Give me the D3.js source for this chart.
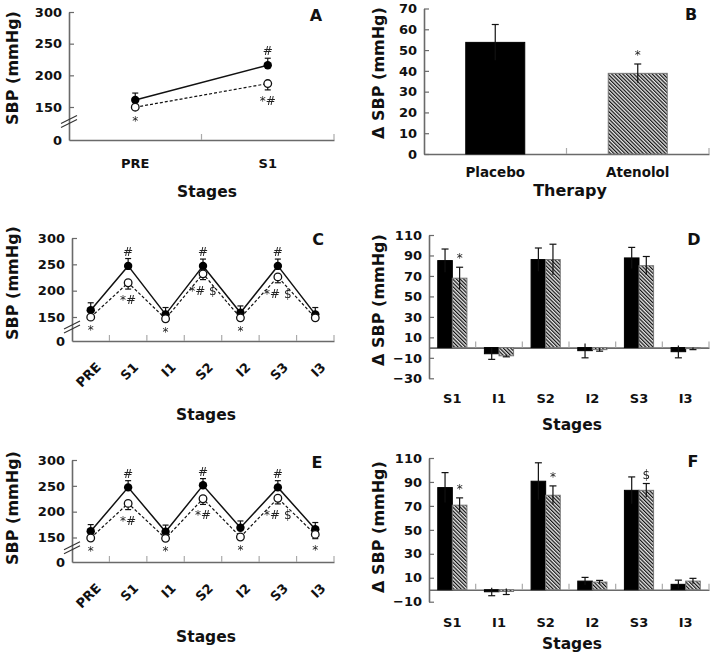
<!DOCTYPE html>
<html><head><meta charset="utf-8">
<script src="https://cdn.jsdelivr.net/npm/d3@7"></script>
<style>
body{margin:0;background:#fff}
svg{display:block}
text{font-family:"DejaVu Sans",sans-serif}
</style>
</head><body>
<svg id="chart" width="710" height="657"></svg>
<script>
// ---------------- DATA ----------------
// Panel A
const stagesA = ["PRE", "S1"];
const placeboA = [161, 216];
const placeboA_se = [11, 11];
const atenololA = [149, 187];
const atenololA_se = [11, 10];
const notesPlaceboA = ["", "#"];
const notesAtenololA = ["*", "*#"];

// Panel B
const therapyB = ["Placebo", "Atenolol"];
const deltaB = [53.7, 38.8];
const deltaB_se = [8.6, 4.5];
const notesB = ["", "*"];

// Panels C and E
const stagesCE = ["PRE", "S1", "I1", "S2", "I2", "S3", "I3"];
const placeboC = [163, 247, 155, 247, 158, 247, 155];
const placeboC_se = [14, 14, 13, 13, 13, 13, 13];
const atenololC = [149, 215, 139, 232, 145, 226, 145];
const atenololC_se = [13, 12, 12, 11, 13, 11, 13];
const notesPlaceboC = ["", "#", "", "#", "", "#", ""];
const notesAtenololC = ["*", "*#", "*", "*# $", "*", "*# $", ""];

const placeboE = [162, 247, 161, 251, 169, 247, 166];
const placeboE_se = [13, 13, 13, 13, 13, 13, 13];
const atenololE = [147, 216, 145, 225, 151, 226, 156];
const atenololE_se = [13, 12, 12, 11, 13, 11, 13];
const notesPlaceboE = ["", "#", "", "#", "", "#", ""];
const notesAtenololE = ["*", "*#", "*", "*#", "*", "*# $", "*"];

// Panels D and F
const stagesDF = ["S1", "I1", "S2", "I2", "S3", "I3"];
const placeboD = [85, -6, 86, -3, 87.6, -4];
const placeboD_se = [11.3, 5.5, 11.3, 7, 10.3, 6];
const atenololD = [67.8, -8, 86, -2, 80, -1];
const atenololD_se = [10.7, 1, 15, 1.5, 9, 1];
const notesD = ["*", "", "", "", "", ""];

const placeboF = [85.3, -1.7, 90.6, 7.2, 83, 4.5];
const placeboF_se = [12.5, 3.3, 15.4, 3.1, 11.2, 3.5];
const atenololF = [70.6, -1.5, 78.9, 6.4, 83, 7.2];
const atenololF_se = [6.1, 2.5, 7.8, 1.4, 5.7, 2.3];
const notesF = ["*", "", "*", "", "$", ""];

// ---------------- DRAWING ----------------
const svg = d3.select("#chart");
const AX = "#6a6a6a";
const FONT = "'DejaVu Sans', sans-serif";
const TICK_FS = 13, TICK_FW = 700;

const defs = svg.append("defs");
const pat = defs.append("pattern").attr("id", "hatch")
  .attr("patternUnits", "userSpaceOnUse").attr("width", 2.6).attr("height", 2.6)
  .attr("patternTransform", "rotate(-45)");
pat.append("rect").attr("width", 2.6).attr("height", 2.6).attr("fill", "#e6e6e6");
pat.append("line").attr("x1", 0.6).attr("y1", 0).attr("x2", 0.6).attr("y2", 2.6)
  .attr("stroke", "#111").attr("stroke-width", 1.2);
const gray = defs.append("filter").attr("id", "gray")
  .attr("x", "-20%").attr("y", "-20%").attr("width", "140%").attr("height", "140%");
gray.append("feColorMatrix").attr("type", "saturate").attr("values", 0);

function styleAxis(g) {
  g.select(".domain").attr("stroke", AX).attr("stroke-width", 1.6);
  g.selectAll(".tick line").attr("stroke", AX).attr("stroke-width", 1.2);
  g.selectAll(".tick text").attr("font-size", TICK_FS).attr("font-weight", TICK_FW)
    .attr("fill", "#111").attr("font-family", FONT);
}

function yTitle(x, y, txt) {
  svg.append("text").attr("transform", `translate(${x},${y}) rotate(-90)`)
    .attr("text-anchor", "middle").attr("font-size", 16).attr("font-weight", 700)
    .attr("fill", "#111").text(txt);
}
function xTitle(x, y, txt, fs) {
  svg.append("text").attr("x", x).attr("y", y).attr("text-anchor", "middle")
    .attr("font-size", fs || 15.5).attr("font-weight", 700).attr("fill", "#111").text(txt);
}
function letter(x, y, txt) {
  svg.append("text").attr("x", x).attr("y", y).attr("text-anchor", "middle")
    .attr("font-size", 16).attr("font-weight", 700).attr("fill", "#111").text(txt);
}
function note(g, x, y, txt) {
  g.append("text").attr("x", x).attr("y", y).attr("filter", "url(#gray)")
    .attr("text-anchor", "middle").attr("font-size", 12).attr("fill", "#222").text(txt);
}

function linePanel(o) {
  const x = d3.scaleBand().domain(o.cats).range([o.x0, o.x1]);
  const y = d3.scaleLinear().domain([0, 150, 300]).range(o.yr);
  const g = svg.append("g");
  const ya = g.append("g").attr("transform", `translate(${o.x0},0)`)
    .call(d3.axisLeft(y).tickValues([0, 150, 200, 250, 300]).tickSizeInner(-5).tickSizeOuter(0).tickPadding(7));
  styleAxis(ya);
  ya.selectAll(".tick").filter(d => d === 0).select("line").remove();
  const xa = g.append("g").attr("transform", `translate(0,${o.yr[0]})`)
    .call(d3.axisBottom(x).tickSize(0).tickFormat(""));
  styleAxis(xa);
  const bounds = d3.range(1, o.cats.length + 1).map(i => o.x0 + i * x.step());
  g.selectAll(".bt").data(bounds).join("line")
    .attr("x1", d => d).attr("x2", d => d).attr("y1", o.yr[0]).attr("y2", o.yr[0] - 6)
    .attr("stroke", "#aaa").attr("stroke-width", 1.2);
  const cx = c => x(c) + x.bandwidth() / 2;
  if (o.rotate) {
    g.selectAll(".xl").data(o.cats).join("text")
      .attr("transform", c => `translate(${cx(c) + 11},${o.yr[0] + 27}) rotate(-45)`)
      .attr("text-anchor", "end").attr("font-size", TICK_FS).attr("font-weight", TICK_FW).attr("fill", "#111")
      .text(c => c);
  } else {
    g.selectAll(".xl").data(o.cats).join("text")
      .attr("x", c => cx(c)).attr("y", o.yr[0] + 28)
      .attr("text-anchor", "middle").attr("font-size", TICK_FS).attr("font-weight", TICK_FW).attr("fill", "#111")
      .text(c => c);
  }
  const yb = (y(0) + y(150)) / 2;
  [0, -4].forEach(off => {
    g.append("line").attr("x1", o.x0 - 8).attr("y1", yb + 4 + off).attr("x2", o.x0 + 8).attr("y2", yb - 4 + off)
      .attr("stroke", "#333").attr("stroke-width", 1.2);
  });
  const ln = d3.line().x((d, i) => cx(o.cats[i])).y(d => y(d));
  g.append("path").attr("d", ln(o.aten)).attr("fill", "none").attr("stroke", "#111")
    .attr("stroke-width", 1.2).attr("stroke-dasharray", "3,2");
  g.append("path").attr("d", ln(o.plac)).attr("fill", "none").attr("stroke", "#111").attr("stroke-width", 1.5);
  const eb = (vals, se, dir) => {
    vals.forEach((v, i) => {
      const xc = cx(o.cats[i]);
      const ye = y(v + dir * se[i]);
      g.append("line").attr("x1", xc).attr("x2", xc).attr("y1", y(v)).attr("y2", ye)
        .attr("stroke", "#111").attr("stroke-width", 1.2);
      g.append("line").attr("x1", xc - 3).attr("x2", xc + 3).attr("y1", ye).attr("y2", ye)
        .attr("stroke", "#111").attr("stroke-width", 1.2);
    });
  };
  eb(o.plac, o.placSe, 1);
  eb(o.aten, o.atenSe, -1);
  g.selectAll(".mp").data(o.plac).join("circle")
    .attr("cx", (d, i) => cx(o.cats[i])).attr("cy", d => y(d)).attr("r", 4.2).attr("fill", "#000");
  g.selectAll(".ma").data(o.aten).join("circle")
    .attr("cx", (d, i) => cx(o.cats[i])).attr("cy", d => y(d)).attr("r", 3.8)
    .attr("fill", "#fff").attr("stroke", "#111").attr("stroke-width", 1.3);
  o.notesP.forEach((n, i) => { if (n) note(g, cx(o.cats[i]), y(o.plac[i] + o.placSe[i]) - 3, n); });
  o.notesA.forEach((n, i) => { if (n) note(g, cx(o.cats[i]), y(o.aten[i] - o.atenSe[i]) + 15, n); });
}

function barPanel(o) {
  const x = d3.scaleBand().domain(o.cats).range([o.x0, o.x1]).paddingInner(o.pad).paddingOuter(o.pad / 2);
  const y = d3.scaleLinear().domain(o.yd).range(o.yr);
  const g = svg.append("g");
  const ya = g.append("g").attr("transform", `translate(${o.x0},0)`)
    .call(d3.axisLeft(y).tickValues(o.ticks).tickSizeInner(-5).tickSizeOuter(0).tickPadding(7)
      .tickFormat(d => d < 0 ? "\u2212" + Math.abs(d) : d));
  styleAxis(ya);
  const xa = g.append("g").attr("transform", `translate(0,${y(0)})`)
    .call(d3.axisBottom(x).tickSize(0).tickFormat(""));
  styleAxis(xa);
  const step = x.step();
  const bounds = d3.range(1, o.cats.length + 1).map(i => o.x0 + i * step);
  g.selectAll(".bt").data(bounds).join("line")
    .attr("x1", d => d).attr("x2", d => d).attr("y1", y(0)).attr("y2", y(0) - 6)
    .attr("stroke", "#aaa").attr("stroke-width", 1.2);
  g.selectAll(".xl").data(o.cats).join("text")
    .attr("x", c => x(c) + x.bandwidth() / 2).attr("y", o.labelY)
    .attr("text-anchor", "middle").attr("font-size", o.labelSize || TICK_FS).attr("font-weight", TICK_FW).attr("fill", "#111")
    .text(c => c);
  const sub = d3.scaleBand().domain(o.series.map(s => s.key)).range([0, x.bandwidth()]);
  const pos = (s, i) => o.single ? x(o.cats[i]) : x(o.cats[i]) + sub(s.key);
  const bw = o.single ? x.bandwidth() : sub.bandwidth();
  o.series.forEach(s => {
    s.vals.forEach((v, i) => {
      const yt = Math.min(y(v), y(0)), h = Math.abs(y(v) - y(0));
      g.append("rect").attr("x", pos(s, i)).attr("y", yt).attr("width", bw).attr("height", h)
        .attr("fill", s.hatch[i] ? "url(#hatch)" : "#000")
        .attr("stroke", s.hatch[i] ? "#777" : "#000").attr("stroke-width", 1);
    });
  });
  o.series.forEach(s => {
    s.vals.forEach((v, i) => {
      const xc = pos(s, i) + bw / 2;
      const dir = v >= 0 ? 1 : -1;
      const yOut = y(v + dir * s.se[i]), yIn = y(v - dir * s.se[i]);
      g.append("line").attr("x1", xc).attr("x2", xc).attr("y1", yIn).attr("y2", yOut)
        .attr("stroke", "#111").attr("stroke-width", 1.2);
      g.append("line").attr("x1", xc - 3.5).attr("x2", xc + 3.5).attr("y1", yOut).attr("y2", yOut)
        .attr("stroke", "#111").attr("stroke-width", 1.2);
      const n = s.notes ? s.notes[i] : "";
      if (n) note(g, xc, y(v + s.se[i]) - 5, n);
    });
  });
}

// Panel A
linePanel({cats: stagesA, x0: 69, x1: 334, yr: [140, 107, 12], rotate: false,
  plac: placeboA, placSe: placeboA_se, aten: atenololA, atenSe: atenololA_se,
  notesP: notesPlaceboA, notesA: notesAtenololA});
yTitle(18, 68, "SBP (mmHg)");
xTitle(207, 197, "Stages");
letter(316, 21, "A");

// Panel B
barPanel({cats: therapyB, x0: 424, x1: 709, pad: 0.586, yd: [0, 70], yr: [154, 8.5], single: true,
  ticks: d3.range(0, 71, 10), labelY: 177, labelSize: 13.5,
  series: [{key: "therapy", vals: deltaB, se: deltaB_se, hatch: [false, true], notes: notesB}]});
yTitle(384, 73, "\u0394 SBP (mmHg)");
xTitle(570, 196, "Therapy", 16);
letter(691, 20, "B");

// Panel C
linePanel({cats: stagesCE, x0: 72, x1: 334, yr: [341, 317, 238], rotate: true,
  plac: placeboC, placSe: placeboC_se, aten: atenololC, atenSe: atenololC_se,
  notesP: notesPlaceboC, notesA: notesAtenololC});
yTitle(18, 283, "SBP (mmHg)");
xTitle(206, 420, "Stages");
letter(318, 245, "C");

// Panel D
barPanel({cats: stagesDF, x0: 429, x1: 709, pad: 0.375, yd: [-30, 110], yr: [378.3, 235],
  ticks: d3.range(-30, 111, 20), labelY: 403,
  series: [
    {key: "placebo", vals: placeboD, se: placeboD_se, hatch: stagesDF.map(() => false)},
    {key: "atenolol", vals: atenololD, se: atenololD_se, hatch: stagesDF.map(() => true), notes: notesD}]});
yTitle(384, 300, "\u0394 SBP (mmHg)");
xTitle(572, 430, "Stages");
letter(694, 245, "D");

// Panel E
linePanel({cats: stagesCE, x0: 72, x1: 334, yr: [562, 537.5, 460], rotate: true,
  plac: placeboE, placSe: placeboE_se, aten: atenololE, atenSe: atenololE_se,
  notesP: notesPlaceboE, notesA: notesAtenololE});
yTitle(18, 508, "SBP (mmHg)");
xTitle(206, 642, "Stages");
letter(317, 468, "E");

// Panel F
barPanel({cats: stagesDF, x0: 429, x1: 709, pad: 0.375, yd: [-10, 110], yr: [601.7, 458],
  ticks: d3.range(-10, 111, 20), labelY: 627,
  series: [
    {key: "placebo", vals: placeboF, se: placeboF_se, hatch: stagesDF.map(() => false)},
    {key: "atenolol", vals: atenololF, se: atenololF_se, hatch: stagesDF.map(() => true), notes: notesF}]});
yTitle(384, 527, "\u0394 SBP (mmHg)");
xTitle(572, 649, "Stages");
letter(693, 467, "F");
</script>
</body></html>
